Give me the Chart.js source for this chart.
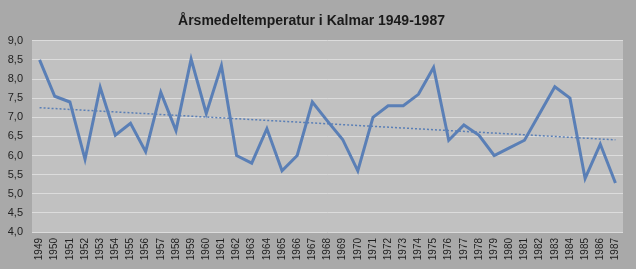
<!DOCTYPE html>
<html lang="sv">
<head>
    <meta charset="UTF-8">
    <title>Årsmedeltemperatur i Kalmar 1949-1987</title>
    <script src="https://cdn.jsdelivr.net/npm/chart.js"></script>
    <style>
        html, body { margin: 0; padding: 0; background: #a9a9a9; }
        #wrap { width: 636px; height: 269px; }
    </style>
</head>
<body>
<div id="wrap"><canvas id="tempChart" width="636" height="269"></canvas></div>
<script>
    // Årtal (kategorier)
    const years = [
        '1949', '1950', '1951', '1952', '1953', '1954', '1955', '1956', '1957', '1958',
        '1959', '1960', '1961', '1962', '1963', '1964', '1965', '1966', '1967', '1968',
        '1969', '1970', '1971', '1972', '1973', '1974', '1975', '1976', '1977', '1978',
        '1979', '1980', '1981', '1982', '1983', '1984', '1985', '1986', '1987'
    ];
    // Årsmedeltemperatur (°C)
    const meanTemp = [
        8.5, 7.55, 7.4, 5.9, 7.78, 6.53, 6.84, 6.1, 7.65, 6.65,
        8.52, 7.1, 8.35, 6.0, 5.8, 6.7, 5.6, 6.0, 7.4, 6.9,
        6.42, 5.6, 7.0, 7.3, 7.3, 7.6, 8.3, 6.4, 6.8, 6.53,
        6.0, 6.2, 6.4, 7.1, 7.8, 7.5, 5.4, 6.3, 5.28
    ];
    // Trendlinjens ändpunkter (1949 och 1987)
    const trendEnds = [7.25, 6.41];
    // y-axelns gränser
    const yTicks = { min: 4.0, max: 9.0, step: 0.5 };

    const trend = years.map((y, i) =>
        i === 0 ? trendEnds[0] : (i === years.length - 1 ? trendEnds[1] : null));

    // Ljusare bakgrund för själva diagramytan
    const plotBg = {
        id: 'plotBg',
        beforeDraw(chart) {
            const { ctx, chartArea: a } = chart;
            ctx.save();
            ctx.fillStyle = '#a9a9a9';
            ctx.fillRect(0, 0, chart.width, chart.height);
            ctx.fillStyle = '#c1c1c1';
            ctx.fillRect(a.left, a.top, a.right - a.left, a.bottom - a.top);
            ctx.restore();
        }
    };

    const ctx = document.getElementById('tempChart').getContext('2d');
    new Chart(ctx, {
        type: 'line',
        data: {
            labels: years,
            datasets: [{
                label: 'Årsmedeltemperatur',
                data: meanTemp,
                borderColor: '#5a7fb6',
                borderWidth: 3,
                pointRadius: 0,
                tension: 0,
                fill: false
            }, {
                label: 'Trend',
                data: trend,
                spanGaps: true,
                borderColor: '#5a7fb6',
                borderWidth: 1.5,
                borderDash: [2, 2],
                pointRadius: 0,
                fill: false
            }]
        },
        options: {
            responsive: false,
            animation: false,
            layout: { padding: { left: 0, right: 13, top: 0, bottom: 0 } },
            plugins: {
                legend: { display: false },
                tooltip: { enabled: false },
                title: {
                    display: true,
                    text: 'Årsmedeltemperatur i Kalmar 1949-1987',
                    color: '#1a1a1a',
                    font: { family: 'Liberation Sans', size: 14, weight: 'bold' },
                    padding: { top: 13, bottom: 11 }
                }
            },
            scales: {
                x: {
                    offset: true,
                    grid: { display: false, drawTicks: false },
                    border: { display: false },
                    ticks: {
                        autoSkip: false,
                        minRotation: 90,
                        maxRotation: 90,
                        padding: 6,
                        color: '#222',
                        font: { family: 'Liberation Sans', size: 10 }
                    },
                    afterFit(scale) { scale.height = 37; }
                },
                y: {
                    min: yTicks.min,
                    max: yTicks.max,
                    grid: { color: '#dcdcdc', lineWidth: 1, drawTicks: false },
                    border: { display: false },
                    ticks: {
                        stepSize: yTicks.step,
                        padding: 9,
                        color: '#222',
                        font: { family: 'Liberation Sans', size: 11 },
                        callback: v => v.toFixed(1).replace('.', ',')
                    },
                    afterFit(scale) { scale.width = 32; }
                }
            }
        },
        plugins: [plotBg]
    });
</script>
</body>
</html>
